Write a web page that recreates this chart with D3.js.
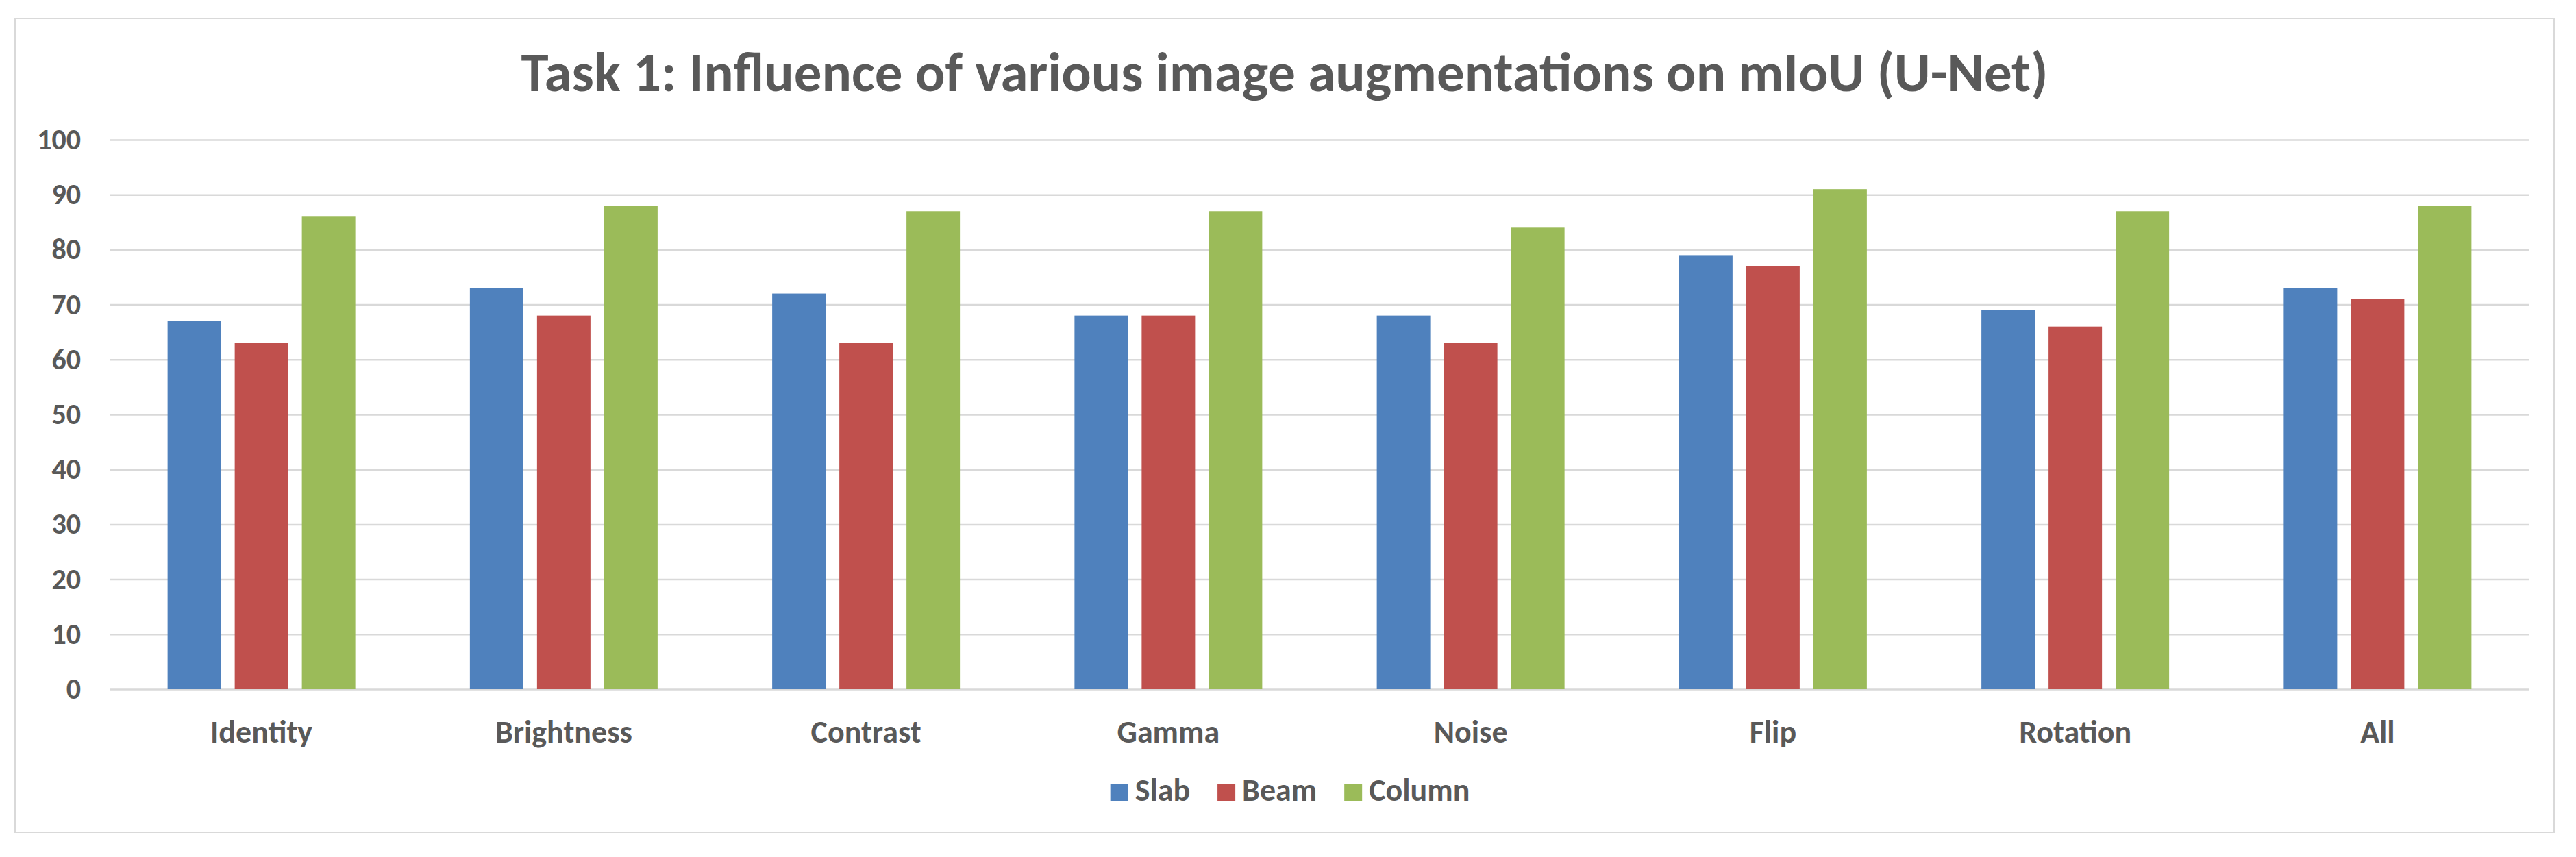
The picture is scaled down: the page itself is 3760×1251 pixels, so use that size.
<!DOCTYPE html>
<html>
<head>
<meta charset="utf-8">
<script src="https://cdn.jsdelivr.net/npm/d3@7"></script>
<style>
  html, body { margin: 0; padding: 0; background: #fff; }
  svg { display: block; font-family: Carlito, Calibri, Lato, sans-serif; }
</style>
</head>
<body>
<script>
// chart data
var categories = ["Identity", "Brightness", "Contrast", "Gamma", "Noise", "Flip", "Rotation", "All"];
var seriesNames = ["Slab", "Beam", "Column"];
var slab = [67, 73, 72, 68, 68, 79, 69, 73];
var beam = [63, 68, 63, 68, 63, 77, 66, 71];
var column = [86, 88, 87, 87, 84, 91, 87, 88];
var yTicks = [0, 10, 20, 30, 40, 50, 60, 70, 80, 90, 100];
var titleText = "Task 1: Influence of various image augmentations on mIoU (U-Net)";

var colors = { Slab: "#4F81BD", Beam: "#C0504D", Column: "#9BBB59" };
var textColor = "#595959";
var fontStack = "Carlito, Calibri, Lato, sans-serif";

var W = 3760, H = 1251;
var plot = { left: 161, right: 3691, top: 204, bottom: 1006 };

var svg = d3.select("body").append("svg")
    .attr("width", W)
    .attr("height", H);

// outer chart border
svg.append("rect")
    .attr("x", 22).attr("y", 27)
    .attr("width", 3728 - 22).attr("height", 1215 - 27)
    .attr("fill", "#fff")
    .attr("stroke", "#D9D9D9")
    .attr("stroke-width", 2);

// title
svg.append("text")
    .attr("x", 1875)
    .attr("y", 133)
    .attr("text-anchor", "middle")
    .attr("fill", textColor)
    .style("font-size", "81px")
    .style("font-weight", "bold")
    .text(titleText);

// scales
var x0 = d3.scaleBand().domain(categories).range([plot.left, plot.right]);
var groupWidth = 274;
var x1 = d3.scaleBand().domain(seriesNames).range([0, groupWidth]).paddingInner(20 / 98);
var y = d3.scaleLinear().domain([0, 100]).range([plot.bottom, plot.top]);

// y axis + gridlines
var yAxis = d3.axisLeft(y)
    .tickValues(yTicks)
    .tickSize(-(plot.right - plot.left))
    .tickPadding(43);

var gy = svg.append("g")
    .attr("transform", "translate(" + plot.left + ",0)")
    .call(yAxis)
    .attr("font-family", fontStack);
gy.select(".domain").remove();
gy.selectAll(".tick line")
    .attr("stroke", "#D9D9D9")
    .attr("stroke-width", 2.5);
gy.selectAll(".tick text")
    .attr("fill", textColor)
    .style("font-size", "42px")
    .style("font-weight", "bold");

// x axis labels
var xAxis = d3.axisBottom(x0).tickSize(0).tickPadding(45);
var gx = svg.append("g")
    .attr("transform", "translate(0," + plot.bottom + ")")
    .call(xAxis)
    .attr("font-family", fontStack);
gx.select(".domain").remove();
gx.selectAll(".tick text")
    .attr("fill", textColor)
    .style("font-size", "46px")
    .style("font-weight", "bold");

// bars
var rows = categories.map(function (c, i) {
    return { cat: c, values: [
        { name: "Slab", v: slab[i] },
        { name: "Beam", v: beam[i] },
        { name: "Column", v: column[i] }
    ] };
});

var groups = svg.selectAll("g.group")
    .data(rows)
    .enter().append("g")
    .attr("class", "group")
    .attr("transform", function (d) {
        return "translate(" + (x0(d.cat) + (x0.bandwidth() - groupWidth) / 2) + ",0)";
    });

groups.selectAll("rect")
    .data(function (d) { return d.values; })
    .enter().append("rect")
    .attr("x", function (d) { return x1(d.name); })
    .attr("width", x1.bandwidth())
    .attr("y", function (d) { return y(d.v); })
    .attr("height", function (d) { return y(0) - y(d.v); })
    .attr("fill", function (d) { return colors[d.name]; });

// legend
var legend = svg.append("g");
var lx = 0;
seriesNames.forEach(function (name) {
    var item = legend.append("g").attr("transform", "translate(" + lx + ",0)");
    item.append("rect")
        .attr("x", 0).attr("y", -25)
        .attr("width", 26).attr("height", 25)
        .attr("fill", colors[name]);
    var t = item.append("text")
        .attr("x", 36).attr("y", 0)
        .attr("fill", textColor)
        .style("font-size", "46px")
        .style("font-weight", "bold")
        .text(name);
    lx += 36 + t.node().getComputedTextLength() + 40;
});
var legendWidth = lx - 40;
legend.attr("transform", "translate(" + (1883 - legendWidth / 2) + ",1169)");
</script>
</body>
</html>
